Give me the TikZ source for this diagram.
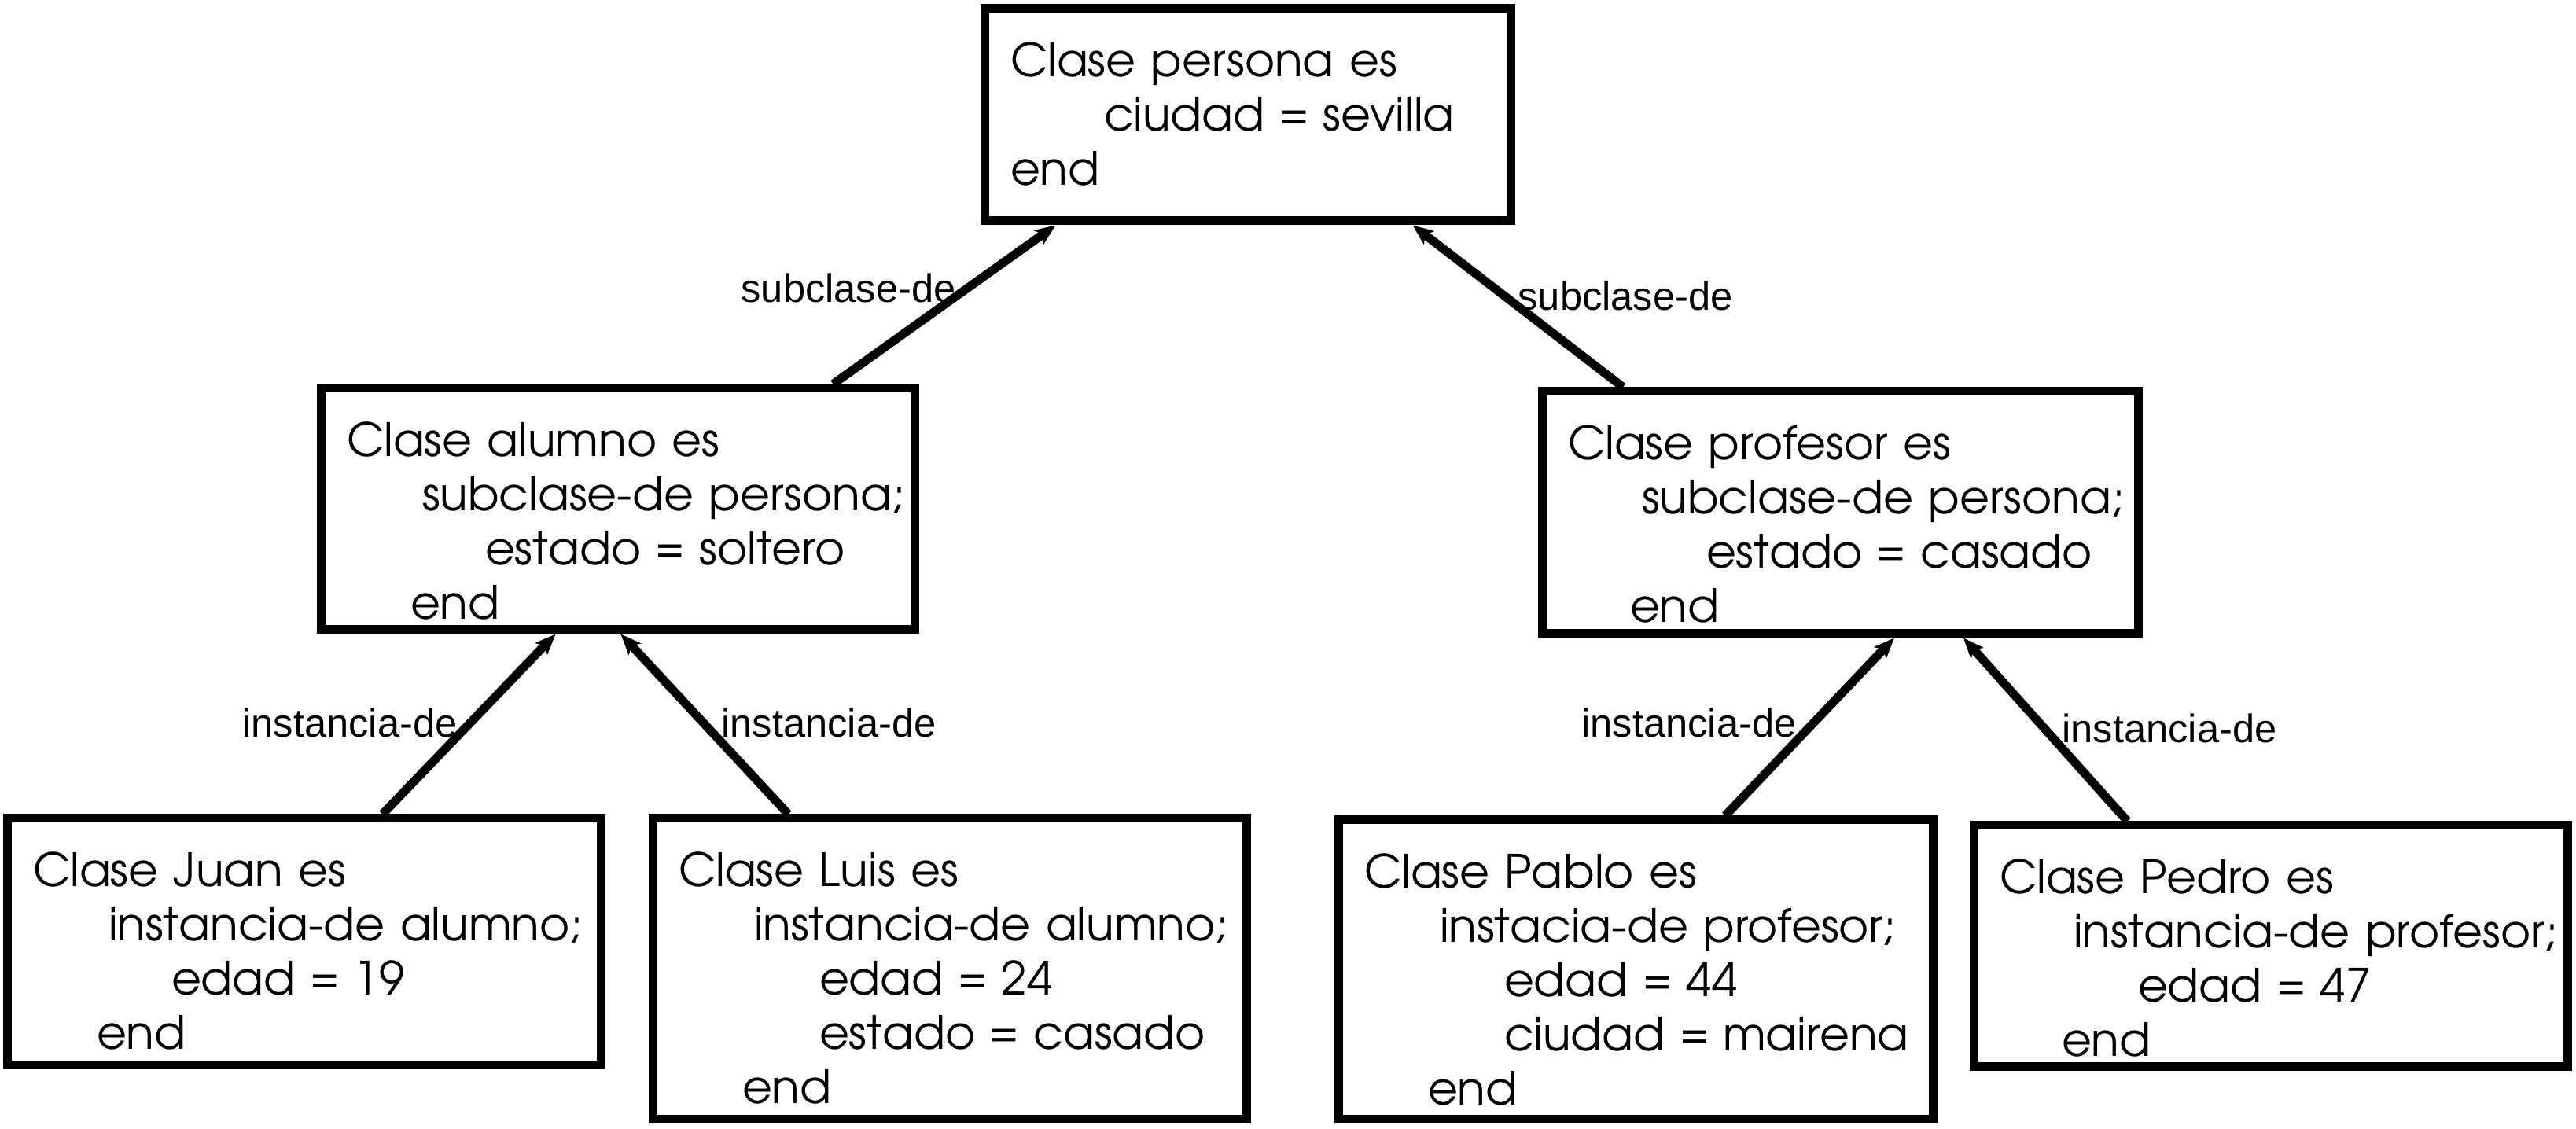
\documentclass[tikz,border=0pt]{standalone}
\usepackage[T1]{fontenc}
\usepackage{fontspec}
\usepackage{tikz}
\usetikzlibrary{arrows.meta}
\newfontfamily\labelfont{Liberation Sans}
\newcommand{\gothicfont}{\fontencoding{T1}\fontfamily{pag}\fontseries{m}\fontshape{n}\fontsize{16.6}{19.6}\selectfont}
\newcommand{\fila}[2]{\hspace*{#1cm}\mbox{#2}}

\begin{document}
\begin{tikzpicture}[
	clase/.style={draw, line width=0.11cm, rectangle, inner xsep=0.33cm, inner ysep=0pt, align=left, font=\gothicfont, text height=0.87cm},
	rel/.style={line width=0.11cm, -{Stealth[length=0.26cm,width=0.21cm,inset=0.06cm]}},
	etiq/.style={font=\labelfont\fontsize{14.4}{17}\selectfont, inner sep=0pt}
]
	\useasboundingbox (0,0) rectangle (32.76,14.36);

	%Clases
	\node[clase, text width=6.03cm, text depth=1.83cm] (persona) at (15.865,12.90)
		{\fila{0}{Clase persona es}\\ \fila{1.19}{ciudad = sevilla}\\ \fila{0}{end}};
	\node[clase, text width=6.89cm, text depth=2.20cm] (alumno) at (7.855,7.885)
		{\fila{0}{Clase alumno es}\\ \fila{0.96}{subclase-de persona;}\\ \fila{1.76}{estado = soltero}\\ \fila{0.81}{end}};
	\node[clase, text width=6.92cm, text depth=2.21cm] (profesor) at (23.40,7.84)
		{\fila{0}{Clase profesor es}\\ \fila{0.94}{subclase-de persona;}\\ \fila{1.76}{estado = casado}\\ \fila{0.79}{end}};

	%Instancias
	\node[clase, text width=6.89cm, text depth=2.27cm] (juan) at (3.865,2.38)
		{\fila{0}{Clase Juan es}\\ \fila{0.96}{instancia-de alumno;}\\ \fila{1.76}{edad = 19}\\ \fila{0.81}{end}};
	\node[clase, text width=6.89cm, text depth=2.96cm] (luis) at (12.075,2.035)
		{\fila{0}{Clase Luis es}\\ \fila{0.96}{instancia-de alumno;}\\ \fila{1.79}{edad = 24}\\ \fila{1.79}{estado = casado}\\ \fila{0.81}{end}};
	\node[clase, text width=6.90cm, text depth=2.94cm] (pablo) at (20.80,2.025)
		{\fila{0}{Clase Pablo es}\\ \fila{0.96}{instacia-de profesor;}\\ \fila{1.78}{edad = 44}\\ \fila{1.78}{ciudad = mairena}\\ \fila{0.81}{end}};
	\node[clase, text width=6.89cm, text depth=2.20cm] (pedro) at (28.875,2.325)
		{\fila{0}{Clase Pedro es}\\ \fila{0.94}{instancia-de profesor;}\\ \fila{1.76}{edad = 47}\\ \fila{0.79}{end}};

	%Relaciones
	\draw[rel] ([xshift=2.74cm]alumno.north) -- ([xshift=-2.44cm]persona.south);
	\draw[rel] ([xshift=-2.76cm]profesor.north) -- ([xshift=2.10cm]persona.south);
	\draw[rel] ([xshift=1.00cm]juan.north) -- ([xshift=-0.79cm]alumno.south);
	\draw[rel] ([xshift=-2.05cm]luis.north) -- ([xshift=0.04cm]alumno.south);
	\draw[rel] ([xshift=1.14cm]pablo.north) -- ([xshift=0.69cm]profesor.south);
	\draw[rel] ([xshift=-1.82cm]pedro.north) -- ([xshift=1.57cm]profesor.south);

	%Etiquetas
	\node[etiq] (sub1) at (10.79,10.70) {subclase-de};
	\node[etiq] (sub2) at (20.67,10.60) {subclase-de};
	\node[etiq] (ins1) at (4.45,5.17) {instancia-de};
	\node[etiq] (ins2) at (10.54,5.17) {instancia-de};
	\node[etiq] (ins3) at (21.48,5.17) {instancia-de};
	\node[etiq] (ins4) at (27.59,5.10) {instancia-de};
\end{tikzpicture}
\end{document}
